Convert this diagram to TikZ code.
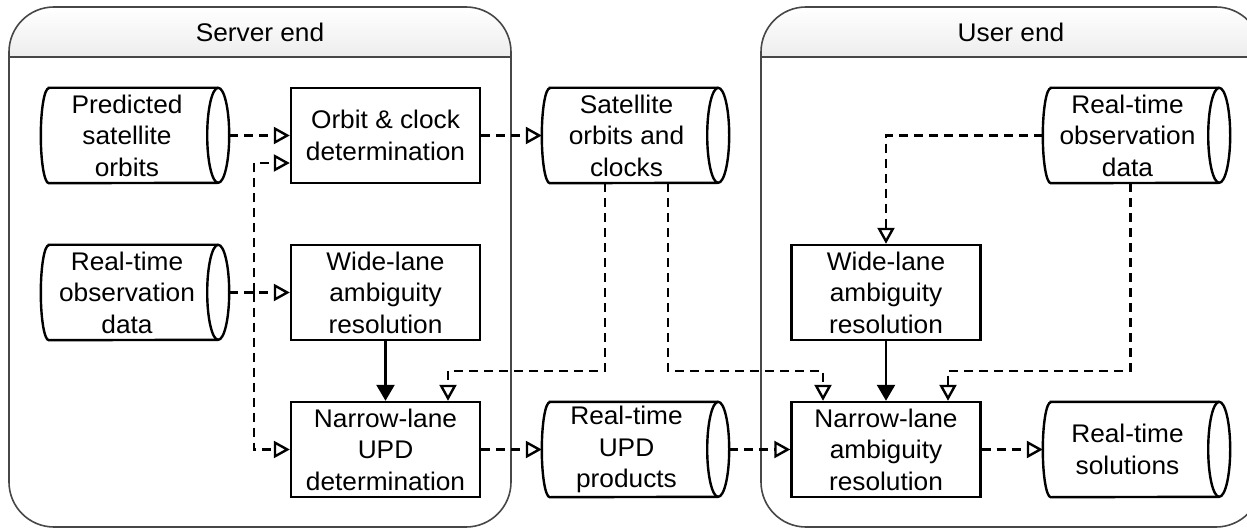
\documentclass[tikz,border=0pt]{standalone}
\usepackage{fontspec}
\setmainfont[FakeStretch=1.03]{Liberation Sans}
\usetikzlibrary{arrows.meta,calc}
\newcommand\cylshape[1]{%
  \draw[shapeln] ([xshift=8pt]#1.north west) -- ([xshift=-11pt]#1.north east)
    arc[start angle=90,end angle=-90,x radius=11pt,y radius=47.5pt]
    -- ([xshift=8pt]#1.south west)
    arc[start angle=270,end angle=90,x radius=8pt,y radius=47.5pt] -- cycle;
  \draw[shapeln] ([xshift=-11pt]#1.north east)
    arc[start angle=90,end angle=270,x radius=11pt,y radius=47.5pt];}
\begin{document}
\begin{tikzpicture}[x=1pt,y=-1pt,
  font=\fontsize{25.5}{31.5}\selectfont,
  shapeln/.style={line width=2.4pt, draw=black},
  procbox/.style={draw=black, line width=2.4pt, minimum width=189pt, minimum height=95pt, align=center, inner sep=0pt},
  cylbox/.style={minimum width=187pt, minimum height=95pt, inner sep=0pt},
  ctext/.style={align=center, inner sep=0pt},
  dl/.style={line width=2.4pt, dash pattern=on 9pt off 6pt, -{Triangle[open,length=16pt,width=17pt,line width=2.4pt]}},
  sl/.style={line width=2.4pt, -{Triangle[length=16pt,width=18pt]}},
  cont/.style={line width=1.6pt, draw=black!72},
  title/.style={inner sep=0pt}]
\useasboundingbox (0,0) rectangle (1247,529);
\clip (0,0) rectangle (1247,529);

% containers
\begin{scope}
  \clip[rounded corners=45pt] (9,7) rectangle (511,527);
  \shade[top color=white, bottom color=black!7] (9,7) rectangle (511,57);
\end{scope}
\draw[cont] (9,57) -- (511,57);
\draw[cont, rounded corners=45pt] (9,7) rectangle (511,527);
\node[title] (stitle) at (260,32) {Server end};

\begin{scope}
  \clip[rounded corners=45pt] (761,7) rectangle (1261,527);
  \shade[top color=white, bottom color=black!7] (761,7) rectangle (1261,57);
\end{scope}
\draw[cont] (761,57) -- (1261,57);
\draw[cont, rounded corners=45pt] (761,7) rectangle (1261,527);
\node[title] (utitle) at (1011,32) {User end};

% process boxes
\node[procbox] (orbit) at (385.5,135.5) {Orbit \& clock\\determination};
\node[procbox] (wlS) at (385.5,292.5) {Wide-lane\\ambiguity\\resolution};
\node[procbox] (nlS) at (385.5,449.5) {Narrow-lane\\UPD\\determination};
\node[procbox] (wlU) at (886,292.5) {Wide-lane\\ambiguity\\resolution};
\node[procbox] (nlU) at (886,449.5) {Narrow-lane\\ambiguity\\resolution};

% data stores
\node[cylbox, minimum width=188pt] (pred) at (135,135.5) {};
\cylshape{pred}
\node[ctext] (predT) at ([xshift=-8pt]pred.center) {Predicted\\satellite\\orbits};

\node[cylbox, minimum width=188pt] (obsS) at (135,292.5) {};
\cylshape{obsS}
\node[ctext] (obsST) at ([xshift=-8pt]obsS.center) {Real-time\\observation\\data};

\node[cylbox] (sat) at (635.5,135.5) {};
\cylshape{sat}
\node[ctext] (satT) at ([xshift=-9pt]sat.center) {Satellite\\orbits and\\clocks};

\node[cylbox] (rtupd) at (635.5,449.5) {};
\cylshape{rtupd}
\node[ctext] (rtupdT) at ([xshift=-9pt]rtupd.center) {Real-time\\UPD\\products};

\node[cylbox] (obsU) at (1136.5,135.5) {};
\cylshape{obsU}
\node[ctext] (obsUT) at ([xshift=-9pt]obsU.center) {Real-time\\observation\\data};

\node[cylbox] (sol) at (1136.5,449.5) {};
\cylshape{sol}
\node[ctext] (solT) at ([xshift=-9pt]sol.center) {Real-time\\solutions};

% connectors
\coordinate (jS) at (254,292.5);
\draw[dl] (pred.east) -- (orbit.west);
\draw[dl] (orbit.east) -- (sat.west);
\draw[dl] (obsS.east) -- (wlS.west);
\draw[dl] (jS) |- ([yshift=-27.5pt]orbit.west);
\draw[dl] (jS) |- (nlS.west);
\draw[sl] (wlS.south) -- (nlS.north);
\draw[dl] ([xshift=-30.5pt]sat.south) |- ([xshift=62.5pt,yshift=30pt]nlS.north) -- ([xshift=62.5pt]nlS.north);
\draw[dl] ([xshift=32.5pt]sat.south) |- ([xshift=-63pt,yshift=30pt]nlU.north) -- ([xshift=-63pt]nlU.north);
\draw[dl] (nlS.east) -- (rtupd.west);
\draw[dl] (rtupd.east) -- (nlU.west);
\draw[dl] (nlU.east) -- (sol.west);
\draw[dl] (obsU.west) -| (wlU.north);
\draw[sl] (wlU.south) -- (nlU.north);
\draw[dl] ([xshift=-6pt]obsU.south) |- ([xshift=62pt,yshift=30pt]nlU.north) -- ([xshift=62pt]nlU.north);
\end{tikzpicture}
\end{document}
